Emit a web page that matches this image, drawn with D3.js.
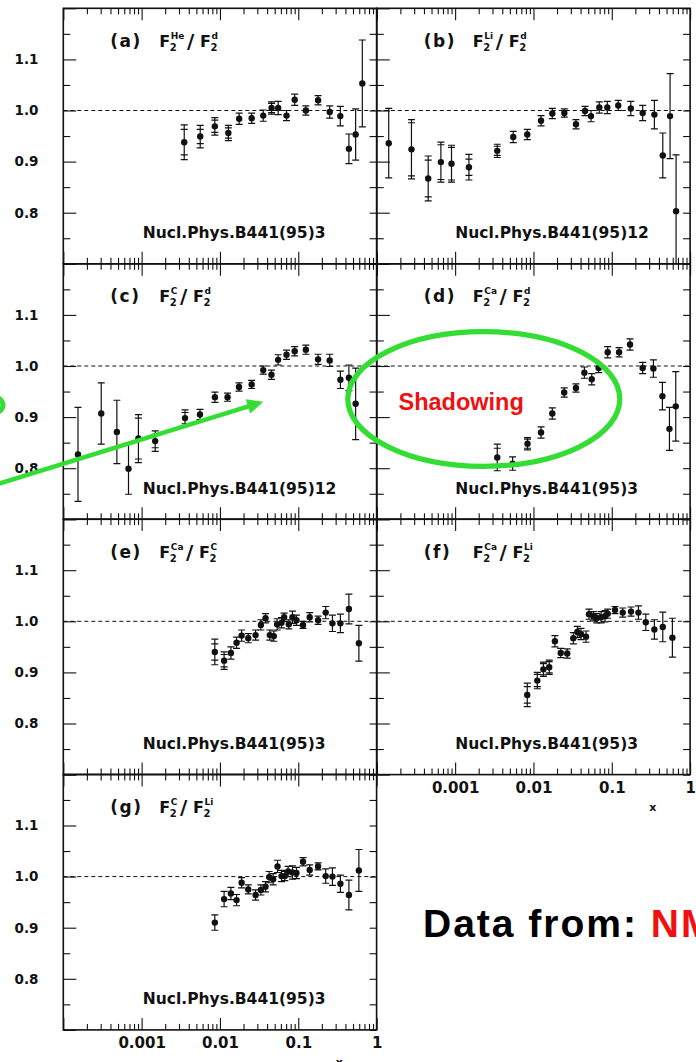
<!DOCTYPE html>
<html><head><meta charset="utf-8">
<script src="https://cdn.jsdelivr.net/npm/d3@7"></script>
<style>
html,body{margin:0;padding:0;background:#fff;overflow:hidden;}
svg{display:block;}
</style></head><body>
<svg id="chart" width="696" height="1062"></svg>
<script>
// ---------- data ----------
const panelLabels = ["(a)","(b)","(c)","(d)","(e)","(f)","(g)"];
const numerators = ["He","Li","C","Ca","Ca","Ca","C"];
const denominators = ["d","d","d","d","C","Li","Li"];
const references = ["Nucl.Phys.B441(95)3","Nucl.Phys.B441(95)12","Nucl.Phys.B441(95)12",
  "Nucl.Phys.B441(95)3","Nucl.Phys.B441(95)3","Nucl.Phys.B441(95)3","Nucl.Phys.B441(95)3"];
const yTickLabels = [0.8, 0.9, 1.0, 1.1];
const xTickLabels = [0.001, 0.01, 0.1, 1];
// each point: [x, ratio, total error, statistical error]
const dataA = [
[0.0035,0.938,0.034,0.025],[0.0056,0.949,0.022,0.014],[0.0086,0.969,0.017,0.012],
[0.0128,0.956,0.015,0.010],[0.0176,0.984,0.011,0.008],[0.0254,0.985,0.010,0.008],
[0.0357,0.990,0.011,0.011],[0.0456,1.005,0.012,0.009],[0.0554,1.005,0.013,0.010],
[0.0708,0.990,0.010,0.010],[0.090,1.021,0.011,0.009],[0.125,1.000,0.009,0.009],
[0.179,1.020,0.009,0.009],[0.252,0.997,0.012,0.012],[0.344,0.989,0.019,0.019],
[0.443,0.925,0.029,0.029],[0.540,0.953,0.050,0.050],[0.657,1.053,0.085,0.085]];
const dataB = [
[0.000142,0.936,0.068,0.068],[0.000277,0.924,0.058,0.052],[0.000453,0.867,0.044,0.036],
[0.000658,0.899,0.039,0.034],[0.000899,0.896,0.036,0.032],[0.0015,0.889,0.025,0.016],
[0.00345,0.921,0.013,0.009],[0.00552,0.948,0.011,0.008],[0.00834,0.953,0.010,0.008],
[0.0125,0.980,0.010,0.010],[0.0174,0.994,0.010,0.010],[0.0248,0.995,0.008,0.008],
[0.0349,0.973,0.009,0.009],[0.0455,0.999,0.009,0.009],[0.0543,0.989,0.011,0.011],
[0.0693,1.006,0.011,0.011],[0.0877,1.006,0.012,0.012],[0.121,1.010,0.010,0.010],
[0.175,1.004,0.014,0.014],[0.248,0.995,0.015,0.015],[0.350,0.992,0.028,0.028],
[0.448,0.912,0.044,0.044],[0.555,0.989,0.083,0.083],[0.662,0.803,0.110,0.110]];
const dataC = [
[0.000154,0.827,0.092,0.092],[0.000305,0.907,0.060,0.058],[0.000483,0.871,0.062,0.060],
[0.00068,0.799,0.050,0.050],[0.00091,0.858,0.047,0.040],[0.00149,0.853,0.020,0.013],
[0.00358,0.898,0.016,0.011],[0.00556,0.905,0.010,0.008],[0.00863,0.939,0.010,0.008],
[0.0125,0.939,0.008,0.008],[0.0175,0.959,0.008,0.008],[0.0254,0.964,0.008,0.008],
[0.0357,0.992,0.008,0.008],[0.0455,0.983,0.009,0.009],[0.0553,1.012,0.010,0.010],
[0.0708,1.022,0.009,0.009],[0.090,1.029,0.009,0.009],[0.125,1.032,0.009,0.009],
[0.179,1.013,0.010,0.010],[0.252,1.011,0.012,0.012],[0.345,0.973,0.017,0.017],
[0.443,0.977,0.025,0.025],[0.540,0.926,0.070,0.070]];
const dataD = [
[0.00345,0.821,0.026,0.018],[0.00542,0.809,0.013,0.010],[0.0084,0.848,0.012,0.009],
[0.0125,0.870,0.011,0.009],[0.0174,0.907,0.011,0.009],[0.0247,0.948,0.009,0.009],
[0.0349,0.957,0.008,0.008],[0.0447,0.987,0.011,0.011],[0.0555,0.974,0.011,0.011],
[0.068,0.996,0.009,0.009],[0.0887,1.027,0.011,0.011],[0.124,1.027,0.009,0.009],
[0.171,1.042,0.011,0.011],[0.248,0.996,0.011,0.011],[0.340,0.995,0.017,0.017],
[0.443,0.941,0.027,0.027],[0.545,0.877,0.042,0.042],[0.656,0.921,0.068,0.068]];
const dataE = [
[0.0086,0.940,0.025,0.016],[0.0113,0.923,0.017,0.012],[0.0138,0.938,0.012,0.010],
[0.0163,0.958,0.011,0.009],[0.0189,0.972,0.011,0.009],[0.0230,0.967,0.009,0.009],
[0.0285,0.973,0.010,0.010],[0.0333,0.993,0.010,0.010],[0.0382,1.006,0.009,0.009],
[0.0433,0.973,0.010,0.010],[0.0487,0.971,0.010,0.010],[0.0537,0.994,0.011,0.011],
[0.061,0.997,0.010,0.010],[0.066,1.008,0.008,0.008],[0.0757,0.994,0.009,0.009],
[0.0843,1.008,0.012,0.012],[0.0948,1.002,0.010,0.010],[0.115,0.993,0.007,0.007],
[0.140,1.008,0.009,0.009],[0.179,1.002,0.008,0.008],[0.224,1.017,0.012,0.012],
[0.273,0.996,0.016,0.016],[0.345,0.996,0.018,0.018],[0.443,1.024,0.029,0.029],
[0.594,0.957,0.035,0.035]];
const dataF = [
[0.00834,0.856,0.023,0.016],[0.0112,0.884,0.016,0.012],[0.0134,0.906,0.014,0.011],
[0.0159,0.910,0.014,0.011],[0.0188,0.961,0.011,0.009],[0.0223,0.938,0.009,0.009],
[0.0270,0.937,0.009,0.009],[0.0323,0.967,0.011,0.011],[0.0363,0.979,0.011,0.011],
[0.0405,0.975,0.011,0.011],[0.0469,0.970,0.011,0.011],[0.0512,1.014,0.010,0.010],
[0.0581,1.010,0.009,0.009],[0.0643,1.006,0.009,0.009],[0.073,1.008,0.011,0.011],
[0.082,1.010,0.011,0.011],[0.0887,1.015,0.009,0.009],[0.110,1.022,0.007,0.007],
[0.138,1.017,0.009,0.009],[0.176,1.019,0.009,0.009],[0.219,1.017,0.013,0.013],
[0.272,0.998,0.016,0.016],[0.350,0.984,0.019,0.019],[0.448,0.989,0.029,0.029],
[0.594,0.968,0.038,0.038]];
const dataG = [
[0.0086,0.910,0.015,0.012],[0.0113,0.956,0.015,0.012],[0.0138,0.967,0.012,0.010],
[0.0163,0.954,0.011,0.011],[0.0189,0.988,0.010,0.010],[0.023,0.975,0.009,0.009],
[0.0285,0.964,0.010,0.010],[0.0333,0.974,0.010,0.010],[0.0382,0.980,0.010,0.010],
[0.0425,0.999,0.011,0.011],[0.0478,0.995,0.011,0.011],[0.0543,1.020,0.012,0.012],
[0.0611,1.001,0.011,0.011],[0.0673,1.001,0.009,0.009],[0.0742,1.010,0.010,0.010],
[0.0843,1.008,0.013,0.013],[0.0948,1.007,0.011,0.011],[0.115,1.029,0.008,0.008],
[0.140,1.013,0.010,0.010],[0.179,1.020,0.007,0.007],[0.224,1.001,0.014,0.014],
[0.273,1.000,0.017,0.017],[0.345,0.986,0.017,0.017],[0.443,0.964,0.029,0.029],
[0.594,1.012,0.041,0.041]];
const panelData = [dataA, dataB, dataC, dataD, dataE, dataF, dataG];

// ---------- layout ----------
const svg = d3.select("#chart");
const colX = [63.3, 376.8];
const rowY = [8.3, 263.8, 519.1, 774.4];
const W = 313.3, H = 255.5;
const FONT = "DejaVu Sans";
const grid = [[0,0],[1,0],[0,1],[1,1],[0,2],[1,2],[0,3]];
const withXLabels = [false,false,false,false,false,true,true];

const xDecades = [1e-4,1e-3,1e-2,1e-1,1];
function minorVals(){ const m=[]; for(let e=-4;e<0;e++) for(let k=2;k<=9;k++) m.push(k*Math.pow(10,e)); return m; }
const xMinor = minorVals();
const yMajor = [0.7,0.8,0.9,1.0,1.1,1.2];
const yMinor = [0.75,0.85,0.95,1.05,1.15];

function styleAxis(g){
  g.select(".domain").remove();
  g.selectAll(".tick line").attr("stroke","#111").attr("stroke-width",1.1);
}

panelData.forEach((data, i) => {
  const [c, r] = grid[i];
  const x0 = colX[c], top = rowY[r];
  const x = d3.scaleLog().domain([1e-4, 1]).range([x0, x0 + W]);
  const y = d3.scaleLinear().domain([0.7, 1.2]).range([top + H, top]);
  const g = svg.append("g");
  const clipId = "clip" + i;
  svg.append("clipPath").attr("id", clipId).append("rect")
    .attr("x", x0).attr("y", top).attr("width", W).attr("height", H);

  // ticks (inward)
  g.append("g").attr("transform",`translate(0,${top+H})`)
    .call(d3.axisBottom(x).tickValues(xDecades).tickSize(-12).tickFormat("")).call(styleAxis);
  g.append("g").attr("transform",`translate(0,${top+H})`)
    .call(d3.axisBottom(x).tickValues(xMinor).tickSize(-6).tickFormat("")).call(styleAxis);
  g.append("g").attr("transform",`translate(0,${top})`)
    .call(d3.axisTop(x).tickValues(xDecades).tickSize(-12).tickFormat("")).call(styleAxis);
  g.append("g").attr("transform",`translate(0,${top})`)
    .call(d3.axisTop(x).tickValues(xMinor).tickSize(-6).tickFormat("")).call(styleAxis);
  g.append("g").attr("transform",`translate(${x0},0)`)
    .call(d3.axisLeft(y).tickValues(yMajor).tickSize(-13).tickFormat("")).call(styleAxis);
  g.append("g").attr("transform",`translate(${x0},0)`)
    .call(d3.axisLeft(y).tickValues(yMinor).tickSize(-7).tickFormat("")).call(styleAxis);
  g.append("g").attr("transform",`translate(${x0+W},0)`)
    .call(d3.axisRight(y).tickValues(yMajor.concat(yMinor)).tickSize(-7).tickFormat("")).call(styleAxis);

  // y labels on left column
  if (c === 0) {
    const ya = g.append("g").attr("transform",`translate(${x0},0)`)
      .call(d3.axisLeft(y).tickValues(yTickLabels).tickSize(0).tickPadding(x0-38.5).tickFormat(d3.format(".1f")));
    ya.select(".domain").remove();
    ya.selectAll("text").attr("font-family",FONT).attr("font-weight","bold")
      .attr("font-size",13.5).attr("fill","#111");
  }
  // x labels
  if (withXLabels[i]) {
    const xa = g.append("g").attr("transform",`translate(0,${top+H})`)
      .call(d3.axisBottom(x).tickValues(xTickLabels).tickSize(0).tickPadding(7.5).tickFormat(d => String(d)));
    xa.select(".domain").remove();
    xa.selectAll("text").attr("font-family",FONT).attr("font-weight","bold")
      .attr("font-size",15).attr("fill","#111");
    g.append("text").attr("x", x0 + 276).attr("y", top + H + 36)
      .attr("text-anchor","middle").attr("font-family",FONT).attr("font-weight","bold")
      .attr("font-size",11).attr("fill","#111").text("x");
  }

  // reference line at 1
  g.append("line").attr("x1", x0).attr("x2", x0 + W).attr("y1", y(1)).attr("y2", y(1))
    .attr("stroke","#111").attr("stroke-width",1).attr("stroke-dasharray","4,3");

  // data
  const pts = g.append("g").attr("clip-path",`url(#${clipId})`);
  const cap = 3.5;
  data.forEach(([xv, v, tot, st]) => {
    const px = x(xv);
    pts.append("line").attr("x1",px).attr("x2",px).attr("y1",y(v-tot)).attr("y2",y(v+tot))
      .attr("stroke","#111").attr("stroke-width",1.2);
    [v-tot, v+tot].forEach(e => pts.append("line").attr("x1",px-cap).attr("x2",px+cap)
      .attr("y1",y(e)).attr("y2",y(e)).attr("stroke","#111").attr("stroke-width",1.2));
    if (tot - st > 0.003) {
      [v-st, v+st].forEach(e => pts.append("line").attr("x1",px-cap).attr("x2",px+cap)
        .attr("y1",y(e)).attr("y2",y(e)).attr("stroke","#111").attr("stroke-width",1.2));
    }
    pts.append("circle").attr("cx",px).attr("cy",y(v)).attr("r",3.2).attr("fill","#111");
  });

  // frame
  g.append("rect").attr("x",x0).attr("y",top).attr("width",W).attr("height",H)
    .attr("fill","none").attr("stroke","#111").attr("stroke-width",1.6);

  // title
  const base = top + 38.5;
  const tAttr = sel => sel.attr("font-family",FONT).attr("font-weight","bold").attr("fill","#111");
  g.append("text").attr("x",x0+47).attr("y",base).attr("font-size",17)
    .attr("letter-spacing","1.5px").call(tAttr).text(panelLabels[i]);
  const fx = x0 + 96;
  g.append("text").attr("x",fx).attr("y",base).attr("font-size",16).call(tAttr).text("F");
  g.append("text").attr("x",fx+10.5).attr("y",base+4).attr("font-size",10).call(tAttr).text("2");
  const s1 = g.append("text").attr("x",fx+11.5).attr("y",base-8).attr("font-size",9).call(tAttr).text(numerators[i]);
  const s1End = fx + 11.5 + s1.node().getComputedTextLength();
  const slashX = s1End + 2.5;
  g.append("text").attr("x",slashX).attr("y",base+1).attr("font-size",20).call(tAttr).text("/");
  const fx2 = slashX + 13;
  g.append("text").attr("x",fx2).attr("y",base).attr("font-size",16).call(tAttr).text("F");
  g.append("text").attr("x",fx2+10.5).attr("y",base+4).attr("font-size",10).call(tAttr).text("2");
  g.append("text").attr("x",fx2+11.5).attr("y",base-8).attr("font-size",9).call(tAttr).text(denominators[i]);

  // reference
  g.append("text").attr("x", x0 + (c === 0 ? 79.5 : 78.5)).attr("y", top + 230)
    .attr("font-size",15.5).call(tAttr).text(references[i]);
});

// ---------- annotations ----------
const green = "#33dd33";
const ann = svg.append("g");
ann.append("ellipse").attr("cx",483.8).attr("cy",399).attr("rx",136).attr("ry",67.3)
  .attr("fill","none").attr("stroke",green).attr("stroke-width",5.3);
ann.append("ellipse").attr("cx",-30).attr("cy",405).attr("rx",33).attr("ry",14)
  .attr("fill","none").attr("stroke",green).attr("stroke-width",5);
// arrow
const tip = [263.3, 401.7], tail = [-10, 486.4];
const ang = Math.atan2(tip[1]-tail[1], tip[0]-tail[0]);
const hl = 16, hw = 7.5;
const bx = tip[0] - hl*Math.cos(ang), by = tip[1] - hl*Math.sin(ang);
ann.append("line").attr("x1",tail[0]).attr("y1",tail[1]).attr("x2",bx+2*Math.cos(ang)).attr("y2",by+2*Math.sin(ang))
  .attr("stroke",green).attr("stroke-width",4.6);
ann.append("path").attr("d",
  `M${tip[0]},${tip[1]} L${bx + hw*Math.sin(ang)},${by - hw*Math.cos(ang)} L${bx - hw*Math.sin(ang)},${by + hw*Math.cos(ang)} Z`)
  .attr("fill",green);
ann.append("text").attr("x",398.5).attr("y",410).attr("font-family","Liberation Sans, Arial, sans-serif")
  .attr("font-weight","bold").attr("font-size",23.5).attr("fill","#ee1111").text("Shadowing");
const df = ann.append("text").attr("x",423).attr("y",936.7).attr("font-family","Liberation Sans, Arial, sans-serif")
  .attr("font-weight","bold").attr("font-size",39).attr("letter-spacing","2px");
df.append("tspan").attr("fill","#000").text("Data from: ");
df.append("tspan").attr("fill","#ee1111").text("NMC");
</script>
</body></html>
